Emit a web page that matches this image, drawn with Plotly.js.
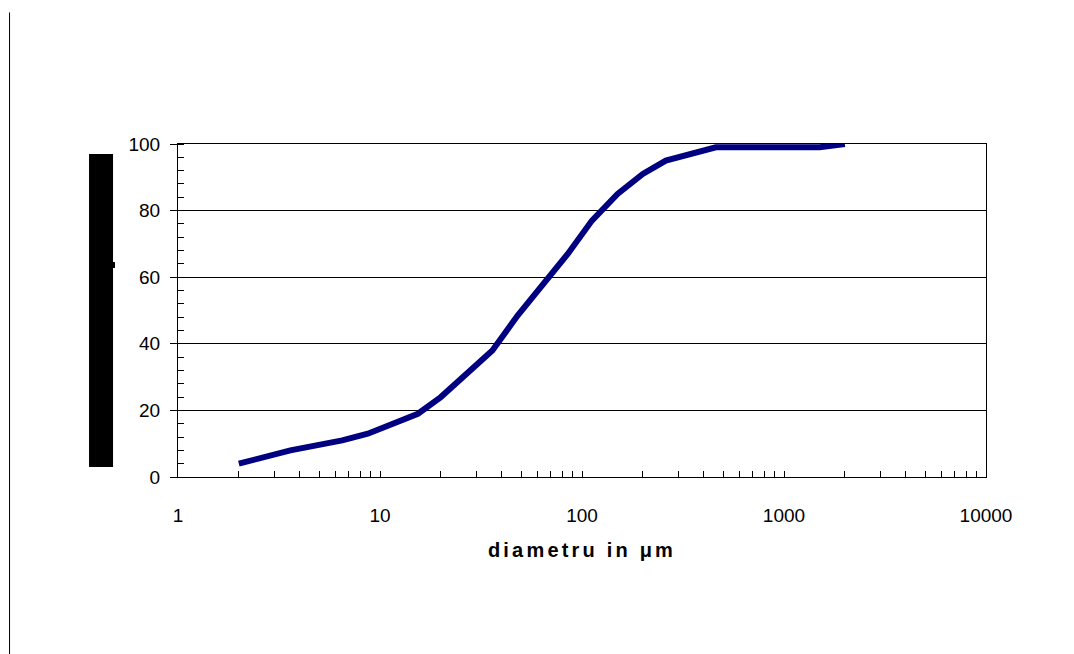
<!DOCTYPE html>
<html>
<head>
<meta charset="utf-8">
<script src="https://cdn.plot.ly/plotly-3.0.1.min.js"></script>
<style>html,body{margin:0;padding:0;background:#fff;}#chart{width:1074px;height:654px;}</style>
</head>
<body>
<div id="chart"></div>
<script>
// Particle size distribution (cumulative %)
var diameters = [2, 3.6, 6.5, 8.7, 15.4, 20, 36, 48, 85, 112, 150, 200, 260, 460, 1500, 2000];
var cumulativePercent = [4, 8, 11, 13, 19, 24, 38, 48.5, 67, 77, 85, 91, 95, 99, 99, 100];
var xTickValues = [1, 10, 100, 1000, 10000];
var xTickLabels = ['1', '10', '100', '1000', '10000'];
var xAxisTitle = 'diametru in \u03bcm';

var tickFont = {family: '"Liberation Sans", Arial, sans-serif', size: 19, color: '#000'};

var trace = {
  x: diameters,
  y: cumulativePercent,
  type: 'scatter',
  mode: 'lines',
  line: {color: '#000080', width: 6},
  hoverinfo: 'x+y',
  cliponaxis: true
};

var layout = {
  width: 1074,
  height: 654,
  margin: {l: 178, r: 88, t: 144, b: 177},
  paper_bgcolor: '#fff',
  plot_bgcolor: '#fff',
  showlegend: false,
  xaxis: {
    type: 'log',
    range: [0, 4],
    tickvals: xTickValues,
    ticktext: xTickLabels,
    ticks: 'inside',
    ticklen: 6,
    tickcolor: '#000',
    tickwidth: 1,
    ticklabelstandoff: 21,
    showgrid: false,
    zeroline: false,
    showline: true,
    linecolor: '#000',
    linewidth: 1,
    mirror: true,
    tickfont: tickFont,
    minor: {ticks: 'inside', ticklen: 6, tickcolor: '#000', tickwidth: 1, dtick: 'D1', showgrid: false},
    title: {
      text: '<span style="letter-spacing:3.2px">' + xAxisTitle + '</span>',
      font: {family: '"Liberation Sans", Arial, sans-serif', size: 20, color: '#000', weight: 'bold'},
      standoff: 18
    }
  },
  yaxis: {
    range: [0, 100],
    dtick: 20,
    tick0: 0,
    ticks: 'outside',
    ticklen: 7,
    tickcolor: '#000',
    tickwidth: 1,
    ticklabelstandoff: 6,
    showgrid: true,
    gridcolor: '#000',
    gridwidth: 1,
    zeroline: false,
    showline: true,
    linecolor: '#000',
    linewidth: 1,
    mirror: true,
    tickfont: tickFont,
    minor: {ticks: 'inside', ticklen: 6, tickcolor: '#000', tickwidth: 1, dtick: 4, showgrid: false}
  },
  shapes: [
    {type: 'rect', xref: 'paper', yref: 'paper', x0: -0.1101, x1: -0.0804, y0: 0.030, y1: 0.970,
     fillcolor: '#000', line: {width: 0}},
    {type: 'rect', xref: 'paper', yref: 'paper', x0: -0.0805, x1: -0.0780, y0: 0.6276, y1: 0.6456,
     fillcolor: '#000', line: {width: 0}},
    {type: 'line', xref: 'paper', yref: 'paper', x0: -0.2085, x1: -0.2085, y0: 1.395, y1: -0.54,
     line: {color: '#000', width: 1}}
  ]
};

Plotly.newPlot('chart', [trace], layout, {displayModeBar: false, staticPlot: true});
</script>
</body>
</html>
